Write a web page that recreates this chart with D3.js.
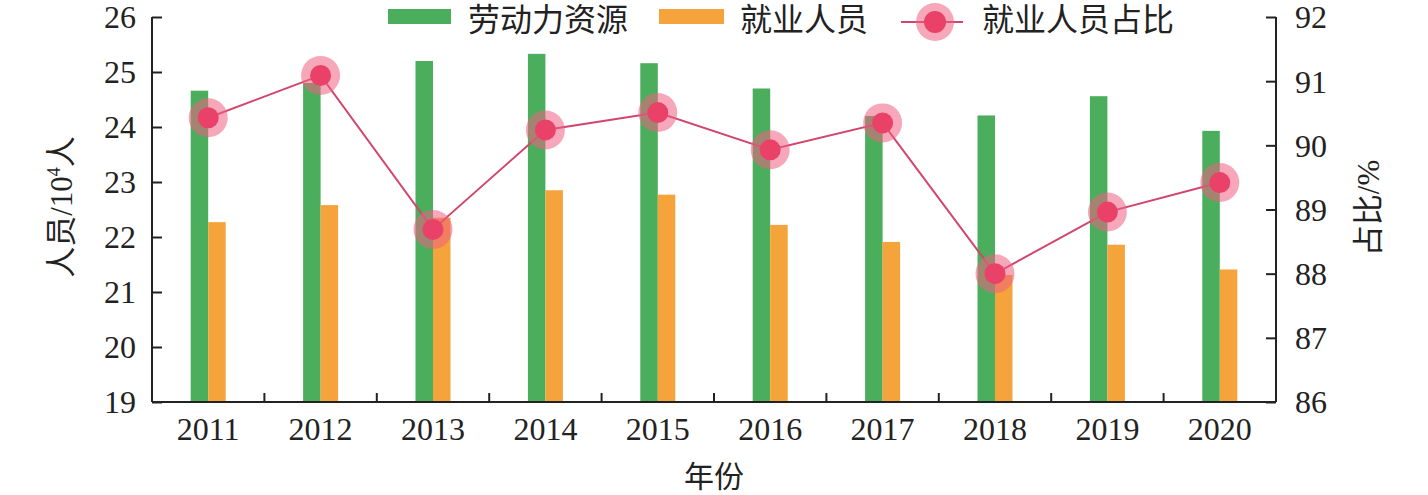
<!DOCTYPE html>
<html>
<head>
<meta charset="utf-8">
<script src="https://cdn.jsdelivr.net/npm/d3@7/dist/d3.min.js"></script>
<style>
  body { margin: 0; background: #fff; }
  svg { display: block; }
</style>
</head>
<body>
<svg id="chart" width="1428" height="495"></svg>
<script>
// data
const years = ["2011", "2012", "2013", "2014", "2015", "2016", "2017", "2018", "2019", "2020"]
const labour = [24.66, 24.8, 25.2, 25.33, 25.16, 24.7, 24.2, 24.21, 24.56, 23.93]
const employed = [22.27, 22.58, 22.35, 22.85, 22.77, 22.22, 21.91, 21.31, 21.86, 21.41]
const share = [90.43, 91.09, 88.69, 90.24, 90.51, 89.93, 90.35, 88.0, 88.96, 89.42]
const leftTicks = [19, 20, 21, 22, 23, 24, 25, 26]
const rightTicks = [86, 87, 88, 89, 90, 91, 92]

const green = "#4aae5c", orange = "#f5a33b", lineCol = "#d2456c", dotCol = "#ea4169"
const numFont = "'Liberation Serif', 'Times New Roman', serif"
const cjkFont = "'Noto Sans CJK SC', 'Noto Sans', sans-serif"

let svg = d3.select("#chart")
let pL = 152, pR = 1276, pT = 17, pB = 402

let x = d3.scaleBand().domain(years).range([pL, pR])
let yL = d3.scaleLinear().domain([19, 26]).range([pB, pT])
let yR = d3.scaleLinear().domain([86, 92]).range([pB, pT])
let bw = 17.5

// bars
let g = svg.append("g")
g.selectAll(".lab").data(years).enter().append("rect")
  .attr("x", d => x(d) + x.bandwidth() / 2 - bw)
  .attr("y", (d, i) => yL(labour[i]))
  .attr("width", bw)
  .attr("height", (d, i) => pB - yL(labour[i]))
  .attr("fill", green)
g.selectAll(".emp").data(years).enter().append("rect")
  .attr("x", d => x(d) + x.bandwidth() / 2)
  .attr("y", (d, i) => yL(employed[i]))
  .attr("width", bw)
  .attr("height", (d, i) => pB - yL(employed[i]))
  .attr("fill", orange)

// axes
let axL = svg.append("g").attr("transform", `translate(${pL},0)`)
  .call(d3.axisRight(yL).tickValues(leftTicks).tickSize(10).tickFormat(d3.format("d")))
axL.selectAll("text").attr("x", -16).attr("text-anchor", "end")
let axR = svg.append("g").attr("transform", `translate(${pR},0)`)
  .call(d3.axisLeft(yR).tickValues(rightTicks).tickSize(10).tickFormat(d3.format("d")))
axR.selectAll("text").attr("x", 19).attr("text-anchor", "start")
let axB = svg.append("g").attr("transform", `translate(0,${pB})`)
  .call(d3.axisBottom(x).tickSize(0).tickPadding(15))
axB.selectAll(".between").data(years.slice(1)).enter().append("line")
  .attr("x1", d => x(d)).attr("x2", d => x(d))
  .attr("y1", 0).attr("y2", -9)
  .attr("stroke", "#222").attr("stroke-width", 2)

for (let ax of [axL, axR, axB]) {
  ax.select(".domain").attr("stroke", "#222").attr("stroke-width", 2)
  ax.selectAll(".tick line").attr("stroke", "#222").attr("stroke-width", 2)
  ax.selectAll("text").attr("font-family", numFont).attr("font-size", 32).attr("fill", "#222")
}
axL.select(".domain").attr("d", `M0,${pT}V${pB}`)
axR.select(".domain").attr("d", `M0,${pT}V${pB}`)
axB.select(".domain").attr("d", `M${pL},0H${pR}`)
axL.selectAll(".tick text").attr("dy", "0.34em")
axR.selectAll(".tick text").attr("dy", "0.34em")

// line with markers
let cx = d => x(d) + x.bandwidth() / 2
svg.append("path")
  .attr("d", d3.line().x(d => cx(d)).y((d, i) => yR(share[i]))(years))
  .attr("fill", "none").attr("stroke", lineCol).attr("stroke-width", 2)
let mk = svg.selectAll(".mk").data(years).enter().append("g")
  .attr("transform", (d, i) => `translate(${cx(d)},${yR(share[i])})`)
mk.append("circle").attr("r", 19.5).attr("fill", "rgb(238,97,130)").attr("fill-opacity", 0.55)
mk.append("circle").attr("r", 10.5).attr("fill", dotCol)

// axis titles
svg.append("text")
  .attr("transform", "translate(72,207) rotate(-90)")
  .attr("text-anchor", "middle")
  .attr("font-size", 31).attr("fill", "#222")
  .html(`<tspan font-family="${cjkFont}">人员</tspan><tspan font-family="${numFont}">/10</tspan><tspan font-family="${numFont}" font-size="18" dy="-12">4</tspan><tspan font-family="${cjkFont}" dy="12">人</tspan>`)
svg.append("text")
  .attr("transform", "translate(1379,208) rotate(-90)")
  .attr("text-anchor", "middle")
  .attr("font-size", 31).attr("fill", "#222")
  .html(`<tspan font-family="${cjkFont}">占比</tspan><tspan font-family="${numFont}">/%</tspan>`)
svg.append("text")
  .attr("x", 714).attr("y", 487)
  .attr("text-anchor", "middle")
  .attr("font-family", cjkFont).attr("font-size", 30).attr("fill", "#222")
  .text("年份")

// legend
let leg = svg.append("g").attr("font-family", cjkFont).attr("font-size", 32).attr("fill", "#222")
leg.append("rect").attr("x", 388).attr("y", 9).attr("width", 63).attr("height", 15).attr("fill", green)
leg.append("text").attr("x", 468).attr("y", 31).text("劳动力资源")
leg.append("rect").attr("x", 659).attr("y", 9).attr("width", 65).attr("height", 15).attr("fill", orange)
leg.append("text").attr("x", 740).attr("y", 31).text("就业人员")
leg.append("line").attr("x1", 901).attr("x2", 963).attr("y1", 22).attr("y2", 22)
  .attr("stroke", lineCol).attr("stroke-width", 2)
leg.append("circle").attr("cx", 935).attr("cy", 22).attr("r", 19).attr("fill", "rgb(238,97,130)").attr("fill-opacity", 0.55)
leg.append("circle").attr("cx", 935).attr("cy", 22).attr("r", 11).attr("fill", dotCol)
leg.append("text").attr("x", 982).attr("y", 31).text("就业人员占比")
</script>
</body>
</html>
